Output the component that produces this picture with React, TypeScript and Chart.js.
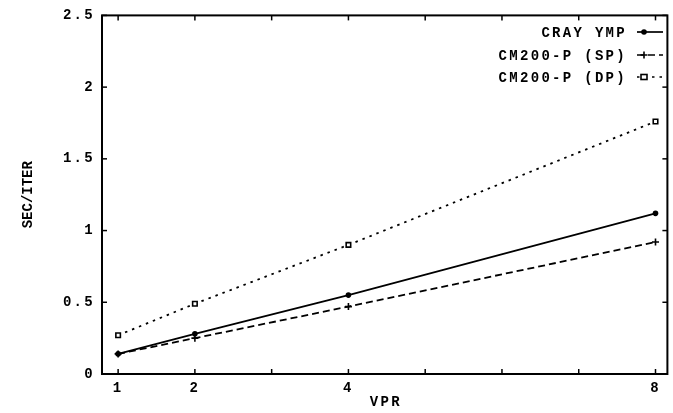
import React, { useEffect, useRef } from 'react';
import { Chart, registerables } from 'chart.js';

Chart.register(...registerables);

// ---- data ----
const vpr = [1, 2, 4, 8];
const crayYmp = [0.14, 0.28, 0.55, 1.12];
const cm200Sp = [0.14, 0.25, 0.47, 0.92];
const cm200Dp = [0.27, 0.49, 0.9, 1.76];
const seriesNames = ['CRAY YMP', 'CM200-P (SP)', 'CM200-P (DP)'];
const xTickValues = [1, 2, 3, 4, 5, 6, 7, 8];
const xLabeled = [1, 2, 4, 8];
const yTickValues = [0, 0.5, 1, 1.5, 2, 2.5];
const yTickLabels = ['0', '0.5', '1', '1.5', '2', '2.5'];
const xTitle = 'VPR';
const yTitle = 'SEC/ITER';

const FONT = '"Liberation Mono", "DejaVu Sans Mono", monospace';
const SPACING = '2.3px';
const WEIGHT = '600';

const dashes = [[], [7, 4], [2.5, 5]];

function drawMarker(ctx: CanvasRenderingContext2D, kind: number, x: number, y: number) {
  ctx.save();
  ctx.setLineDash([]);
  ctx.strokeStyle = '#000';
  ctx.fillStyle = '#000';
  ctx.lineWidth = 1.6;
  if (kind === 0) {
    ctx.beginPath();
    ctx.arc(x, y, 2.8, 0, Math.PI * 2);
    ctx.fill();
  } else if (kind === 1) {
    ctx.beginPath();
    ctx.moveTo(x - 3.5, y);
    ctx.lineTo(x + 3.5, y);
    ctx.moveTo(x, y - 3.5);
    ctx.lineTo(x, y + 3.5);
    ctx.stroke();
  } else {
    ctx.fillStyle = '#fff';
    ctx.fillRect(x - 3, y - 2.5, 6, 5);
    ctx.strokeRect(x - 3, y - 2.5, 6, 5);
  }
  ctx.restore();
}

const framePlugin = {
  id: 'frame',
  beforeLayout(chart: any) {
    (chart.ctx as any).letterSpacing = SPACING;
  },
  beforeDraw(chart: any) {
    (chart.ctx as any).letterSpacing = SPACING;
  },
  afterDraw(chart: any) {
    const ctx: CanvasRenderingContext2D = chart.ctx;
    const a = chart.chartArea;
    const sx = chart.scales.x;
    const sy = chart.scales.y;
    ctx.save();
    ctx.strokeStyle = '#000';
    ctx.lineWidth = 2;
    ctx.setLineDash([]);
    ctx.strokeRect(a.left, a.top, a.right - a.left, a.bottom - a.top);
    ctx.lineWidth = 1.5;
    const seg = (x1: number, y1: number, x2: number, y2: number) => {
      ctx.beginPath();
      ctx.moveTo(x1, y1);
      ctx.lineTo(x2, y2);
      ctx.stroke();
    };
    xTickValues.forEach((v) => {
      const px = sx.getPixelForValue(v);
      seg(px, a.bottom, px, a.bottom - 5);
      seg(px, a.top, px, a.top + 5);
    });
    yTickValues.forEach((v) => {
      const py = sy.getPixelForValue(v);
      seg(a.left, py, a.left + 5, py);
      seg(a.right, py, a.right - 5, py);
    });

    // axis titles
    ctx.fillStyle = '#000';
    ctx.font = `${WEIGHT} 14px ${FONT}`;
    ctx.textBaseline = 'middle';
    ctx.textAlign = 'center';
    (ctx as any).letterSpacing = SPACING;
    ctx.fillText(xTitle, (a.left + a.right) / 2 + 1.1, 402);
    ctx.save();
    (ctx as any).letterSpacing = '0px';
    ctx.translate(28, (a.top + a.bottom) / 2);
    ctx.rotate(-Math.PI / 2);
    ctx.fillText(yTitle, 0, 0);
    ctx.restore();

    // legend
    const rows = [32, 55, 77];
    ctx.textAlign = 'right';
    (ctx as any).letterSpacing = SPACING;
    seriesNames.forEach((name, i) => {
      const y = rows[i];
      ctx.fillText(name, 627, y + 1);
      ctx.save();
      ctx.lineWidth = 1.7;
      ctx.setLineDash(dashes[i]);
      seg(637, y, 663, y);
      ctx.restore();
      drawMarker(ctx, i, 644, y);
    });
    ctx.restore();
  },
};

export default function App() {
  const ref = useRef<HTMLCanvasElement>(null);
  useEffect(() => {
    if (!ref.current) return;
    Chart.defaults.font.family = FONT;
    Chart.defaults.color = '#000';
    const mk = (vals: number[]) => vpr.map((x, i) => ({ x, y: vals[i] }));
    const chart = new Chart(ref.current, {
      type: 'line',
      data: {
        datasets: [
          {
            label: seriesNames[0],
            data: mk(crayYmp),
            borderColor: '#000',
            backgroundColor: '#000',
            borderWidth: 1.8,
            pointStyle: 'circle',
            pointRadius: 2.8,
            pointBorderWidth: 0,
          },
          {
            label: seriesNames[1],
            data: mk(cm200Sp),
            borderColor: '#000',
            backgroundColor: '#000',
            borderWidth: 1.8,
            borderDash: dashes[1],
            pointStyle: 'cross',
            pointRadius: 3.5,
            pointBorderWidth: 1.6,
          },
          {
            label: seriesNames[2],
            data: mk(cm200Dp),
            borderColor: '#000',
            backgroundColor: '#fff',
            borderWidth: 1.8,
            borderDash: dashes[2],
            pointStyle: 'rect',
            pointRadius: 3.2,
            pointBorderWidth: 1.6,
          },
        ],
      },
      options: {
        responsive: false,
        animation: false,
        layout: { padding: { top: 13, right: 1, left: 0, bottom: 0 } },
        plugins: { legend: { display: false }, tooltip: { enabled: false } },
        scales: {
          x: {
            type: 'linear',
            min: 0.79,
            max: 8.155,
            afterBuildTicks: (s: any) => {
              s.ticks = xTickValues.map((v) => ({ value: v }));
            },
            afterFit: (s: any) => {
              s.height = 39;
            },
            ticks: {
              autoSkip: false,
              maxRotation: 0,
              padding: 6,
              font: { size: 14, weight: WEIGHT },
              color: '#000',
              callback: (v: any) => (xLabeled.includes(Number(v)) ? String(v) : ''),
            },
            grid: { display: false, drawTicks: false },
            border: { display: false },
          },
          y: {
            type: 'linear',
            min: 0,
            max: 2.5,
            afterBuildTicks: (s: any) => {
              s.ticks = yTickValues.map((v) => ({ value: v }));
            },
            afterFit: (s: any) => {
              s.width = 102;
            },
            ticks: {
              autoSkip: false,
              padding: 7,
              font: { size: 14, weight: WEIGHT },
              color: '#000',
              callback: (v: any) => {
                const i = yTickValues.indexOf(Number(v));
                return i >= 0 ? yTickLabels[i] : '';
              },
            },
            grid: { display: false, drawTicks: false },
            border: { display: false },
          },
        },
      },
      plugins: [framePlugin],
    });
    return () => chart.destroy();
  }, []);
  return (
    <div style={{ position: 'fixed', left: 0, top: 0, width: 673, height: 413, background: '#fff' }}>
      <canvas ref={ref} width={673} height={413} style={{ display: 'block' }} />
    </div>
  );
}
